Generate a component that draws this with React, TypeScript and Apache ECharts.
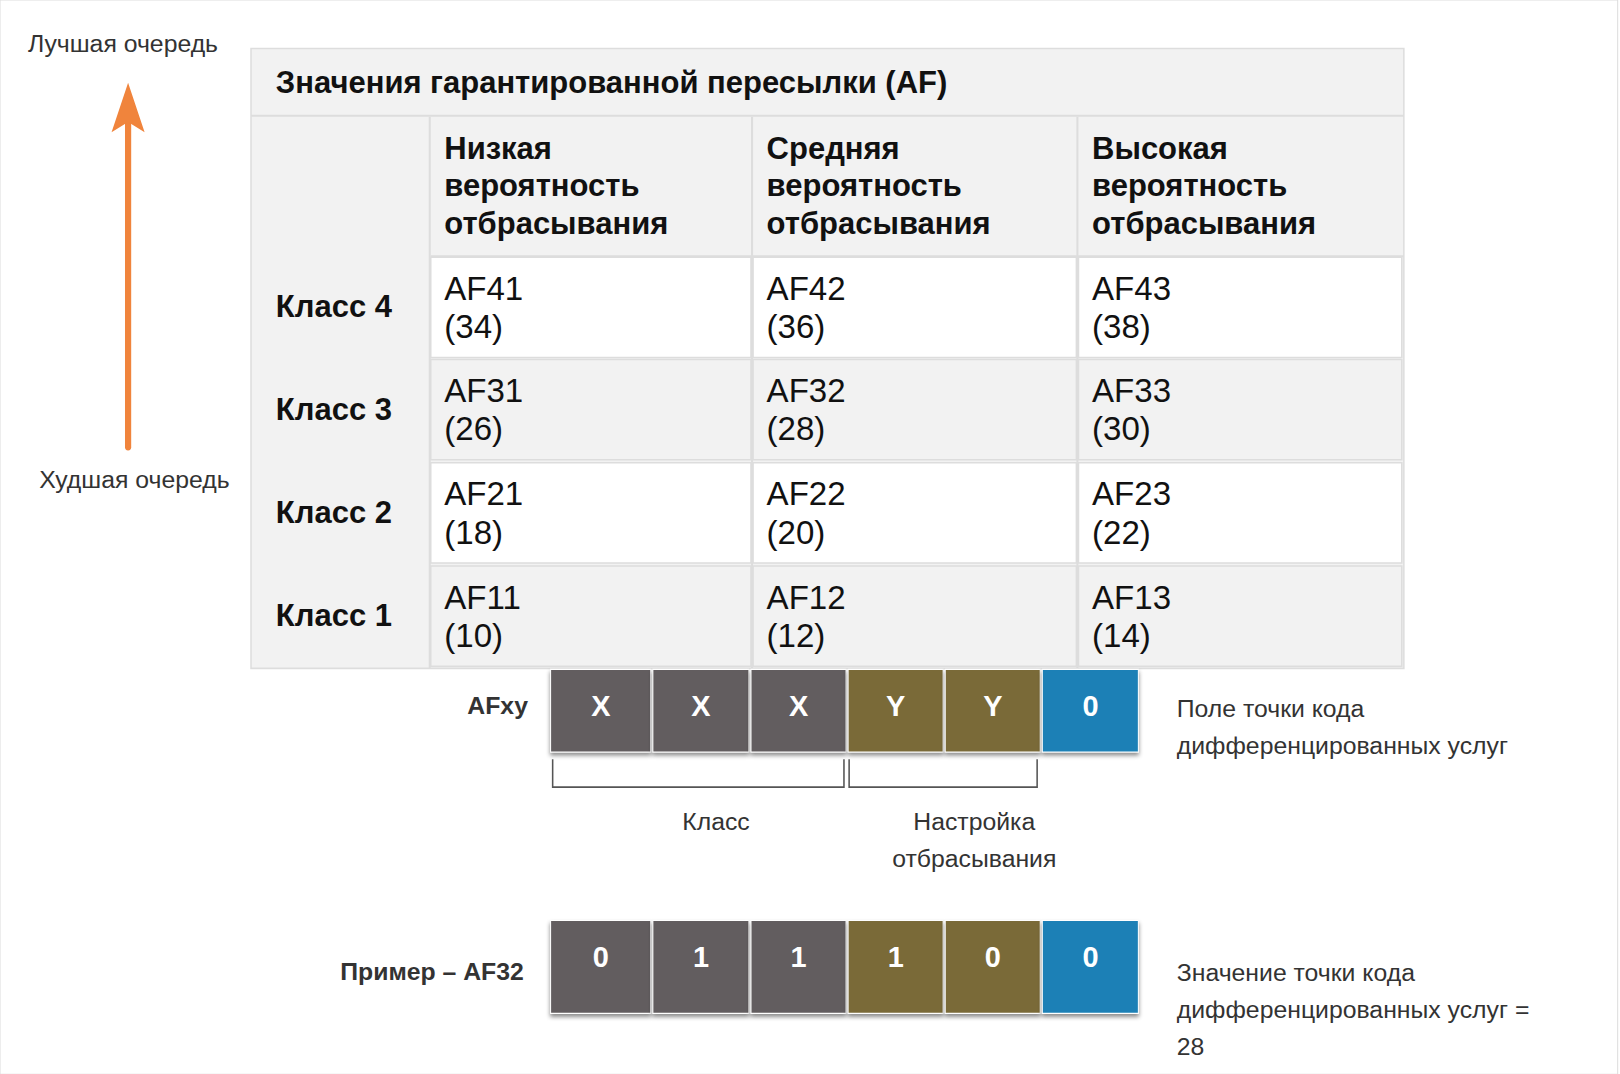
import { useEffect, useRef } from 'react';
import * as echarts from 'echarts';

const S = 1620 / 1568;
const FONT = '"Liberation Sans", Arial, sans-serif';

const title = 'Значения гарантированной пересылки (AF)';
const columns = [
  ['Низкая', 'вероятность', 'отбрасывания'],
  ['Средняя', 'вероятность', 'отбрасывания'],
  ['Высокая', 'вероятность', 'отбрасывания'],
];
const classes = ['Класс 4', 'Класс 3', 'Класс 2', 'Класс 1'];
const afCodes = [
  ['AF41', 'AF42', 'AF43'],
  ['AF31', 'AF32', 'AF33'],
  ['AF21', 'AF22', 'AF23'],
  ['AF11', 'AF12', 'AF13'],
];
const dscpValues = [
  [34, 36, 38],
  [26, 28, 30],
  [18, 20, 22],
  [10, 12, 14],
];
const patternBits = ['X', 'X', 'X', 'Y', 'Y', '0'];
const exampleBits = ['0', '1', '1', '1', '0', '0'];
const bitColors = ['#625d5e', '#625d5e', '#625d5e', '#7a6a38', '#7a6a38', '#1a80b6'];

const colX = [417, 729, 1044];
const colW = [310, 313, 313];
const rowY = [249, 348, 448, 548];
const rowBg = ['#ffffff', '#f2f2f2', '#ffffff', '#f2f2f2'];
const boxX = [533, 632, 727, 821, 915, 1009];
const boxW = [97, 93, 92, 92, 92, 93];

const txt = (x: number, y: number, text: string, size: number, bold = false, align = 'left', color = '#111') => ({
  type: 'text',
  x,
  y,
  style: { text, fontSize: size, fontWeight: bold ? 'bold' : 'normal', fontFamily: FONT, fill: color, align, verticalAlign: 'middle' },
});

const App = () => {
  const ref = useRef<HTMLDivElement>(null);

  useEffect(() => {
    document.body.style.margin = '0';
    if (!ref.current) return;
    const chart = echarts.init(ref.current, null as any, { renderer: 'svg' });
    const els: any[] = [];

    els.push({ type: 'rect', shape: { x: 0, y: 0, width: 1566, height: 1040 }, style: { fill: '#fff', stroke: '#ddd', lineWidth: 1 } });

    // table
    els.push({ type: 'rect', shape: { x: 243, y: 47, width: 1116, height: 600 }, style: { fill: '#f2f2f2', stroke: '#ddd', lineWidth: 1.5 } });
    els.push({ type: 'line', shape: { x1: 243, y1: 112, x2: 1359, y2: 112 }, style: { stroke: '#ddd', lineWidth: 2 } });
    els.push(txt(267, 80, title, 30, true));
    columns.forEach((lines, c) => {
      els.push({ type: 'line', shape: { x1: colX[c] - 1, y1: 113, x2: colX[c] - 1, y2: 647 }, style: { stroke: '#ddd', lineWidth: 2 } });
      lines.forEach((l, i) => els.push(txt(colX[c] + 13, 144 + i * 36, l, 30, true)));
    });
    els.push({ type: 'line', shape: { x1: 417, y1: 248, x2: 1359, y2: 248 }, style: { stroke: '#ddd', lineWidth: 2 } });
    classes.forEach((cl, r) => {
      els.push(txt(267, rowY[r] + 48, cl, 30, true));
      colX.forEach((x, c) => {
        els.push({ type: 'rect', shape: { x, y: rowY[r], width: colW[c], height: 97 }, style: { fill: rowBg[r], stroke: '#ddd', lineWidth: 1.5 } });
        els.push(txt(x + 13, rowY[r] + 30, afCodes[r][c], 32));
        els.push(txt(x + 13, rowY[r] + 67, `(${dscpValues[r][c]})`, 32));
      });
    });

    // arrow
    els.push({ type: 'line', shape: { x1: 124, y1: 433, x2: 124, y2: 110 }, style: { stroke: '#f0843c', lineWidth: 6, lineCap: 'round' } });
    els.push({ type: 'polygon', shape: { points: [[124, 80], [108, 128], [124, 118], [140, 128]] }, style: { fill: '#f0843c' } });
    els.push(txt(27, 42, 'Лучшая очередь', 24, false, 'left', '#333'));
    els.push(txt(38, 464, 'Худшая очередь', 24, false, 'left', '#333'));

    // bit boxes
    const drawRow = (y: number, h: number, bits: string[]) => {
      bits.forEach((b, i) => {
        els.push({ type: 'rect', shape: { x: boxX[i], y, width: boxW[i], height: h }, style: { fill: bitColors[i], stroke: '#fff', lineWidth: 1, shadowBlur: 4, shadowOffsetY: 3, shadowColor: 'rgba(0,0,0,0.45)' } });
        els.push(txt(boxX[i] + boxW[i] / 2, y + 35, b, 28, true, 'center', '#fff'));
      });
    };
    drawRow(648, 80, patternBits);
    drawRow(891, 90, exampleBits);
    els.push(txt(511, 683, 'AFxy', 24, true, 'right', '#333'));
    els.push(txt(507, 940, 'Пример – AF32', 24, true, 'right', '#333'));

    // brackets
    els.push({ type: 'polyline', shape: { points: [[535, 735], [535, 762], [817, 762], [817, 735]] }, style: { stroke: '#555', lineWidth: 1.5, fill: 'none' } });
    els.push({ type: 'polyline', shape: { points: [[822, 735], [822, 762], [1004, 762], [1004, 735]] }, style: { stroke: '#555', lineWidth: 1.5, fill: 'none' } });
    els.push(txt(693, 795, 'Класс', 24, false, 'center', '#333'));
    els.push(txt(943, 795, 'Настройка', 24, false, 'center', '#333'));
    els.push(txt(943, 831, 'отбрасывания', 24, false, 'center', '#333'));

    els.push(txt(1139, 686, 'Поле точки кода', 24, false, 'left', '#333'));
    els.push(txt(1139, 722, 'дифференцированных услуг', 24, false, 'left', '#333'));
    els.push(txt(1139, 941, 'Значение точки кода', 24, false, 'left', '#333'));
    els.push(txt(1139, 977, 'дифференцированных услуг =', 24, false, 'left', '#333'));
    els.push(txt(1139, 1013, '28', 24, false, 'left', '#333'));

    chart.setOption({
      animation: false,
      graphic: [{ type: 'group', x: 0, y: 0, scaleX: S, scaleY: S, children: els }],
    });

    return () => chart.dispose();
  }, []);

  return <div ref={ref} style={{ width: 1620, height: 1074 }} />;
};

export default App;
